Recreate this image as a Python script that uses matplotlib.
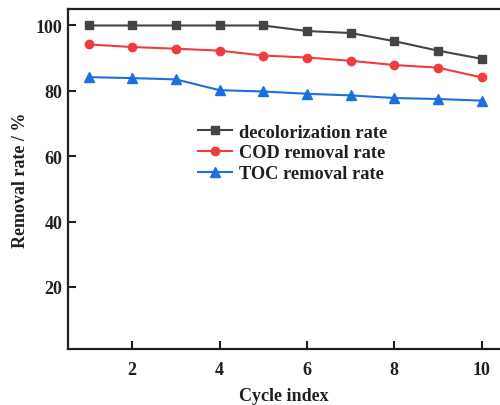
import numpy as np
import matplotlib
matplotlib.use('Agg')
import matplotlib.pyplot as plt

# cycle data
cycles = [1, 2, 3, 4, 5, 6, 7, 8, 9, 10]
decolor = [100.0, 100.0, 100.0, 100.0, 100.0, 98.3, 97.7, 95.2, 92.3, 89.8]
cod = [94.2, 93.4, 92.9, 92.3, 90.8, 90.2, 89.2, 87.9, 87.1, 84.1]
toc = [84.2, 83.9, 83.5, 80.2, 79.8, 79.1, 78.6, 77.8, 77.5, 77.0]

xticks = [2, 4, 6, 8, 10]
yticks = [20, 40, 60, 80, 100]

plt.rcParams['font.family'] = ['Liberation Serif', 'DejaVu Serif']
plt.rcParams['font.weight'] = 'bold'

fig = plt.figure(figsize=(5.0, 4.06), dpi=100)
ax = fig.add_axes([0.136, 0.138, 0.864, 0.837])

ax.plot(cycles, decolor, '-s', color='#444444', lw=1.5, ms=5.5, label='decolorization rate')
ax.plot(cycles, cod, '-o', color='#f03c3c', lw=1.5, ms=6, label='COD removal rate')
ax.plot(cycles, toc, '-^', color='#1c6fe0', lw=1.5, ms=6.5, label='TOC removal rate')

ax.set_xlim(0.53, 10.42)
ax.set_ylim(1, 105)
ax.set_xticks(xticks)
ax.set_yticks(yticks)

for side in ['left', 'bottom', 'top']:
    ax.spines[side].set_linewidth(1.6)
    ax.spines[side].set_color('#231f20')
ax.spines['right'].set_visible(False)

ax.tick_params(direction='in', length=6, width=1.5, color='#231f20',
               labelsize=13, colors='#231f20')
ax.tick_params(axis='x', pad=9)
ax.tick_params(axis='y', pad=4)

ax.set_xlabel('Cycle index', fontsize=13, fontweight='bold', color='#231f20', labelpad=6)
ax.set_ylabel('Removal rate / %', fontsize=13, fontweight='bold', color='#231f20', labelpad=5)

leg = ax.legend(loc='upper left', bbox_to_anchor=(0.30, 0.663), frameon=False,
                fontsize=13.2, handlelength=1.9, handletextpad=0.35,
                labelspacing=0.2, borderpad=0, borderaxespad=0)
for t in leg.get_texts():
    t.set_color('#231f20')

fig.savefig('out.png', dpi=100)
